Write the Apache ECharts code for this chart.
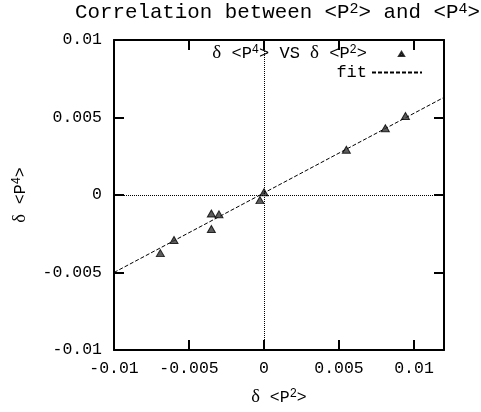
<!DOCTYPE html>
<html>
<head>
<meta charset="utf-8">
<script src="https://cdn.jsdelivr.net/npm/echarts@6/dist/echarts.min.js"></script>
<style>
html,body{margin:0;padding:0;background:#fff;}
#chart{width:481px;height:412px;}
</style>
</head>
<body>
<div id="chart"></div>
<script>
// Data
var pointsX = [0.00943, 0.00809, 0.00549, 0.00000, -0.00027, -0.00351, -0.00300, -0.00351, -0.00600, -0.00691];
var pointsY = [0.00510, 0.00431, 0.00292, 0.00018, -0.00033, -0.00119, -0.00125, -0.00219, -0.00290, -0.00375];
var fitX = [-0.01, 0.012];
var fitY = [-0.0050, 0.0063];
var xTicks = [-0.01, -0.005, 0, 0.005, 0.01];
var yTicks = [-0.01, -0.005, 0, 0.005, 0.01];
var xTickLabels = ['-0.01', '-0.005', '0', '0.005', '0.01'];
var yTickLabels = ['-0.01', '-0.005', '0', '0.005', '0.01'];
var seriesNames = ['data', 'fit'];

var FONT = 'Liberation Mono';
var scatterData = pointsX.map(function (x, i) { return [x, pointsY[i]]; });
var fitData = fitX.map(function (x, i) { return [x, fitY[i]]; });

function richStyles(size) {
  return {
    n: {fontFamily: FONT, fontSize: size, fontWeight: 'normal', color: '#000'},
    d: {fontFamily: 'Liberation Serif', fontSize: size + 2, fontWeight: 'normal', color: '#000'},
    s: {fontFamily: FONT, fontSize: Math.round(size * 0.72), fontWeight: 'normal', color: '#000', verticalAlign: 'top'}
  };
}
function labelOf(list, labels) {
  return function (v) {
    for (var i = 0; i < list.length; i++) {
      if (Math.abs(v - list[i]) < 1e-9) return labels[i];
    }
    return '';
  };
}
var axisLineStyle = {color: '#000', width: 2};
var tickStyle = {color: '#000', width: 2};

var option = {
  animation: false,
  backgroundColor: '#fff',
  textStyle: {fontFamily: FONT, fontWeight: 'normal', color: '#000'},
  title: {
    text: '{n|Correlation between <P}{s|2}{n|> and <P}{s|4}{n|>}',
    left: 75,
    top: 2,
    padding: 0,
    textStyle: {fontFamily: FONT, fontWeight: 'normal', fontSize: 20.8, color: '#000', rich: richStyles(20.8)}
  },
  legend: {
    orient: 'vertical',
    right: 58,
    top: 44,
    padding: 0,
    align: 'right',
    itemWidth: 50,
    itemHeight: 8,
    itemGap: 1,
    data: [
      {name: seriesNames[0], icon: 'path://M0,0M50,8M27,6.5L29.5,2.5L32,6.5Z'},
      {name: seriesNames[1], itemStyle: {color: 'rgba(0,0,0,0)', borderWidth: 0, opacity: 0}}
    ],
    formatter: function (name) {
      if (name === seriesNames[0]) return '{d|δ}{n| <P}{s|4}{n|> VS }{d|δ}{n| <P}{s|2}{n|>}';
      return '{n|fit}';
    },
    textStyle: {fontFamily: FONT, fontSize: 17, color: '#000', rich: richStyles(17)}
  },
  grid: {left: 114, right: 37, top: 40, bottom: 60},
  xAxis: [{
    type: 'value',
    position: 'bottom',
    min: -0.01, max: 0.012,
    name: '{d|δ}{n| <P}{s|2}{n|>}',
    nameLocation: 'middle',
    nameGap: 38,
    nameTextStyle: {fontFamily: FONT, fontSize: 16.5, color: '#000', rich: richStyles(16.5)},
    axisLine: {show: true, onZero: false, lineStyle: axisLineStyle},
    axisTick: {show: true, inside: true, length: 10, lineStyle: tickStyle, customValues: xTicks},
    axisLabel: {show: true, margin: 10, fontFamily: FONT, fontSize: 16.5, color: '#000',
      customValues: xTicks, formatter: labelOf(xTicks, xTickLabels)},
    splitLine: {show: false}
  }, {
    type: 'value',
    position: 'top',
    min: -0.01, max: 0.012,
    axisLine: {show: true, onZero: false, lineStyle: axisLineStyle},
    axisTick: {show: true, inside: true, length: 10, lineStyle: tickStyle, customValues: xTicks},
    axisLabel: {show: false},
    splitLine: {show: false}
  }],
  yAxis: [{
    type: 'value',
    position: 'left',
    min: -0.01, max: 0.01, interval: 0.005,
    name: '{d|δ}{n| <P}{s|4}{n|>}',
    nameLocation: 'middle',
    nameRotate: 90,
    nameGap: 84,
    nameTextStyle: {fontFamily: FONT, fontSize: 16.5, color: '#000', rich: richStyles(16.5)},
    axisLine: {show: true, onZero: false, lineStyle: axisLineStyle},
    axisTick: {show: true, inside: true, length: 10, lineStyle: tickStyle, customValues: yTicks},
    axisLabel: {show: true, margin: 12, fontFamily: FONT, fontSize: 16.5, color: '#000',
      customValues: yTicks, formatter: labelOf(yTicks, yTickLabels)},
    splitLine: {show: false}
  }, {
    type: 'value',
    position: 'right',
    min: -0.01, max: 0.01, interval: 0.005,
    axisLine: {show: true, onZero: false, lineStyle: axisLineStyle},
    axisTick: {show: true, inside: true, length: 10, lineStyle: tickStyle, customValues: yTicks},
    axisLabel: {show: false},
    splitLine: {show: false}
  }],
  series: [{
    name: seriesNames[0],
    type: 'scatter',
    xAxisIndex: 0, yAxisIndex: 0,
    symbol: 'triangle',
    symbolSize: [8, 7],
    itemStyle: {color: '#333', borderColor: '#000', borderWidth: 1},
    data: scatterData,
    z: 3,
    markLine: {
      silent: true,
      symbol: ['none', 'none'],
      label: {show: false},
      lineStyle: {type: 'dotted', color: '#000', width: 1},
      emphasis: {disabled: true},
      data: [{xAxis: 0}, {yAxis: 0}]
    }
  }, {
    name: seriesNames[1],
    type: 'line',
    xAxisIndex: 0, yAxisIndex: 0,
    symbol: 'none',
    showSymbol: false,
    lineStyle: {color: '#000', width: 1, type: [4, 2]},
    itemStyle: {color: '#000'},
    data: fitData,
    z: 2
  }]
};
var chart = echarts.init(document.getElementById('chart'), null, {renderer: 'canvas'});
chart.setOption(option);
</script>
</body>
</html>
